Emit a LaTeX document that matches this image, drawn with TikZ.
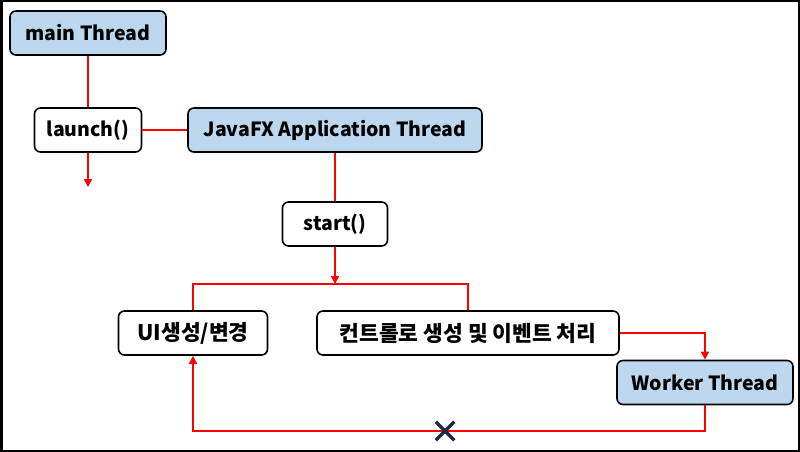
\documentclass[tikz,border=0pt]{standalone}
\usepackage{fontspec}
\setmainfont{Noto Sans CJK KR}
\usepackage{tikz}
\usetikzlibrary{arrows.meta,positioning,shapes.misc}
\definecolor{threadblue}{HTML}{BDD7EE}
\definecolor{crossnavy}{HTML}{1F2A44}

\begin{document}
\begin{tikzpicture}[x=1pt, y=-1pt,
    box/.style={draw, line width=1.6pt, rounded corners=6pt, minimum height=44pt, inner xsep=2pt, align=center, font=\fontsize{19.5}{21}\selectfont\bfseries},
    korbox/.style={box, font=\fontsize{21.5}{23}\selectfont\bfseries},
    thread/.style={box, fill=threadblue},
    line/.style={draw=red, line width=1.6pt},
    arrow/.style={line, -{Triangle[length=8pt, width=8pt]}}
]

% frame
\useasboundingbox (0,0) rectangle (800,452);
\draw[line width=2.5pt] (1.25,1.25) rectangle (798.75,450.75);

% main thread
\node[thread, minimum width=156pt] (main) at (88,33) {main Thread};
\node[box, minimum width=107pt] (launch) at (88,130) {launch()};

% JavaFX thread
\node[thread, minimum width=294pt] (fx) at (335,130) {JavaFX Application Thread};
\node[box, minimum width=105pt] (start) at (335,224) {start()};

% UI work
\node[korbox, minimum width=149pt] (ui) at (193,333) {UI생성/변경};
\node[korbox, minimum width=302pt] (ctrl) at (468,333) {컨트롤로 생성 및 이벤트 처리};

% worker
\node[thread, minimum width=176pt] (worker) at (705,382.5) {Worker Thread};

% free ends
\coordinate (cont) at (88,187);
\coordinate (split) at (335,284);
\coordinate (ret) at (705,431);

% Arrows
\draw[line] (main) -- (launch);
\draw[line] (launch.east) -- (fx.west);
\draw[arrow] (launch) -- (cont);
\draw[line] (fx) -- (start);
\draw[arrow] (start) -- (split);
\draw[line] (ui.north) |- (split) -| (ctrl.north);
\draw[arrow] (ctrl.east) -| (worker.north);
\draw[arrow] (worker.south) -- (ret) -| (ui.south);

% blocked path
\node[cross out, draw=crossnavy, line width=3.5pt, minimum size=15pt, inner sep=0pt] (block) at (445,431) {};

\end{tikzpicture}
\end{document}
